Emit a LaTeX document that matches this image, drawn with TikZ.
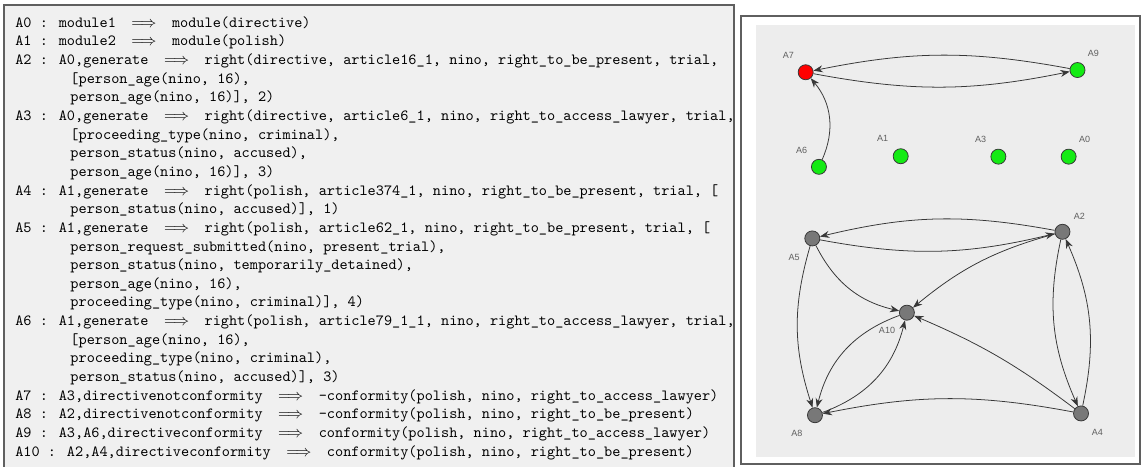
\documentclass[tikz,border=0pt]{standalone}
\usepackage{amsmath,amssymb}
\usepackage{fontspec}
\usepackage{xcolor}
\usetikzlibrary{arrows.meta,calc}
\newfontfamily\lblfont{Liberation Sans}
\definecolor{argpanel}{RGB}{240,240,240}
\definecolor{argframe}{RGB}{95,95,95}
\definecolor{graphbg}{RGB}{237,237,237}
\definecolor{argred}{RGB}{255,0,0}
\definecolor{arggreen}{RGB}{20,235,20}
\definecolor{arggrey}{RGB}{120,120,120}
\definecolor{argedge}{RGB}{55,55,55}
\definecolor{arglabel}{RGB}{95,95,95}
\newcommand{\yields}{\quad$\Longrightarrow$\quad}
\newcommand{\cont}{\hspace*{35.5pt}}

\begin{document}
\begin{tikzpicture}[
    panel/.style={draw=argframe, line width=1pt, fill=argpanel},
    rules/.style={anchor=north west, inner sep=0pt, align=left,
                  font=\ttfamily\fontsize{10}{12}\selectfont},
    arg/.style={circle, draw=argedge, line width=0.5pt,
                minimum size=0.34cm, inner sep=0pt},
    lbl/.style={font=\lblfont\fontsize{5.8}{7}\selectfont,
                text=arglabel, inner sep=0pt},
    att/.style={-{Stealth[length=6pt, width=4.5pt]}, draw=argedge,
                line width=0.5pt},
  ]
  \useasboundingbox (0,0) rectangle (25.84,10.545);

  % Left panel: rules
  \draw[panel] (0.09,10.43) rectangle (16.61,-0.2);
  \node[rules] (args) at (0.34,10.177) {%
A0 : module1\yields module(directive)\\
A1 : module2\yields module(polish)\\
A2 : A0,generate\yields right(directive, article16\_1, nino, right\_to\_be\_present, trial,\\
\cont [person\_age(nino, 16),\\
\cont person\_age(nino, 16)], 2)\\
A3 : A0,generate\yields right(directive, article6\_1, nino, right\_to\_access\_lawyer, trial,\\
\cont [proceeding\_type(nino, criminal),\\
\cont person\_status(nino, accused),\\
\cont person\_age(nino, 16)], 3)\\
A4 : A1,generate\yields right(polish, article374\_1, nino, right\_to\_be\_present, trial, [\\
\cont person\_status(nino, accused)], 1)\\
A5 : A1,generate\yields right(polish, article62\_1, nino, right\_to\_be\_present, trial, [\\
\cont person\_request\_submitted(nino, present\_trial),\\
\cont person\_status(nino, temporarily\_detained),\\
\cont person\_age(nino, 16),\\
\cont proceeding\_type(nino, criminal)], 4)\\
A6 : A1,generate\yields right(polish, article79\_1\_1, nino, right\_to\_access\_lawyer, trial,\\
\cont [person\_age(nino, 16),\\
\cont proceeding\_type(nino, criminal),\\
\cont person\_status(nino, accused)], 3)\\
A7 : A3,directivenotconformity\yields -conformity(polish, nino, right\_to\_access\_lawyer)\\
A8 : A2,directivenotconformity\yields -conformity(polish, nino, right\_to\_be\_present)\\
A9 : A3,A6,directiveconformity\yields conformity(polish, nino, right\_to\_access\_lawyer)\\
A10 : A2,A4,directiveconformity\yields conformity(polish, nino, right\_to\_be\_present)};

  % Right panel: argument graph
  \draw[panel, fill=white] (16.77,10.18) rectangle (25.80,0.045);
  \fill[graphbg] (17.108,9.98) rectangle (25.685,0.204);

  \foreach \i/\x/\y/\c/\dx/\dy in {
      7/18.23/8.91/argred/-0.39/0.38, 9/24.38/8.96/arggreen/0.36/0.38,
      6/18.53/6.77/arggreen/-0.39/0.38, 1/20.38/7.01/arggreen/-0.41/0.40,
      3/22.59/7.00/arggreen/-0.40/0.39, 0/24.18/7.00/arggreen/0.36/0.39,
      2/24.04/5.30/arggrey/0.385/0.355, 5/18.38/5.15/arggrey/-0.41/-0.43,
      10/20.52/3.47/arggrey/-0.45/-0.41, 8/18.44/1.15/arggrey/-0.41/-0.41,
      4/24.46/1.19/arggrey/0.37/-0.44} {
    \node[arg, fill=\c] (a\i) at (\x,\y) {};
    \node[lbl] (l\i) at ($(a\i)+(\dx,\dy)$) {A\i};
  }

  % Attacks
  \foreach \s/\t/\b in {9/7/11, 7/9/11, 6/7/32, 2/5/12, 5/2/12, 5/10/25,
      2/10/12, 4/10/7, 4/8/11, 2/4/18, 4/2/18, 5/8/17, 10/8/28, 8/10/28}
    \draw[att] (a\s) to[bend right=\b] (a\t);
\end{tikzpicture}
\end{document}
